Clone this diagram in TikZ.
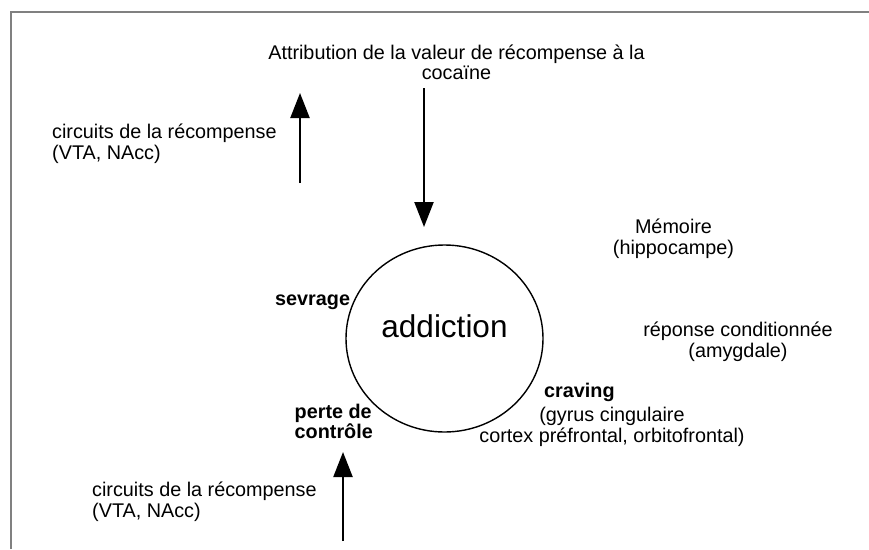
\documentclass[tikz,border=0pt]{standalone}
\usepackage{fontspec}
\setmainfont{Liberation Sans}
\usetikzlibrary{arrows.meta,shapes.geometric}
\tikzset{
  lbl/.style={inner sep=0pt, font=\fontsize{19.8}{20.5}\selectfont},
  bold/.style={lbl, font=\fontsize{19.8}{20.5}\selectfont\bfseries},
  arr/.style={line width=2.2pt, -{Triangle[length=25pt,width=19pt]}},
}
\begin{document}
\begin{tikzpicture}[x=1pt,y=-1pt]
  \useasboundingbox (0,0) rectangle (869,549);
  \draw[black!50, line width=1.3pt] (11,549) -- (11,12) -- (869,12);

  \node[ellipse, draw, line width=1.4pt, minimum width=197pt, minimum height=187pt] (core) at (444.5,338.5) {};
  \node[lbl, anchor=base, font=\fontsize{31.5}{33}\selectfont] (addlbl) at (444.5,337) {addiction};

  % two-line nodes: base = last line
  \node[lbl, anchor=base, align=center] (attr) at (456.5,79.5) {Attribution de la valeur de récompense à la\\cocaïne};
  \node[lbl, anchor=base west, align=left] (rewtop) at (52,159) {circuits de la récompense\\(VTA, NAcc)};
  \node[lbl, anchor=base west, align=left] (rewbot) at (92,517) {circuits de la récompense\\(VTA, NAcc)};
  \node[lbl, anchor=base, align=center] (memo) at (673.5,254) {Mémoire\\(hippocampe)};
  \node[lbl, anchor=base, align=center] (cond) at (738,357) {réponse conditionnée\\(amygdale)};
  \node[bold, anchor=base west] (sevr) at (275,305) {sevrage};
  \node[bold, anchor=base west, align=left] (perte) at (294.5,438.5) {perte de\\contrôle};
  \node[bold, anchor=base west] (crav) at (544,397) {craving};
  \node[lbl, anchor=base, align=center] (cravsub) at (612,442) {(gyrus cingulaire\\cortex préfrontal, orbitofrontal)};

  \coordinate (in0) at (424,88);
  \coordinate (in1) at (424,227);
  \coordinate (up0) at (300,183);
  \coordinate (up1) at (300,93);
  \coordinate (low0) at (343,541);
  \coordinate (low1) at (343,452);
  \draw[arr] (in0) -- (in1);
  \draw[arr] (up0) -- (up1);
  \draw[arr] (low0) -- (low1);
\end{tikzpicture}
\end{document}
